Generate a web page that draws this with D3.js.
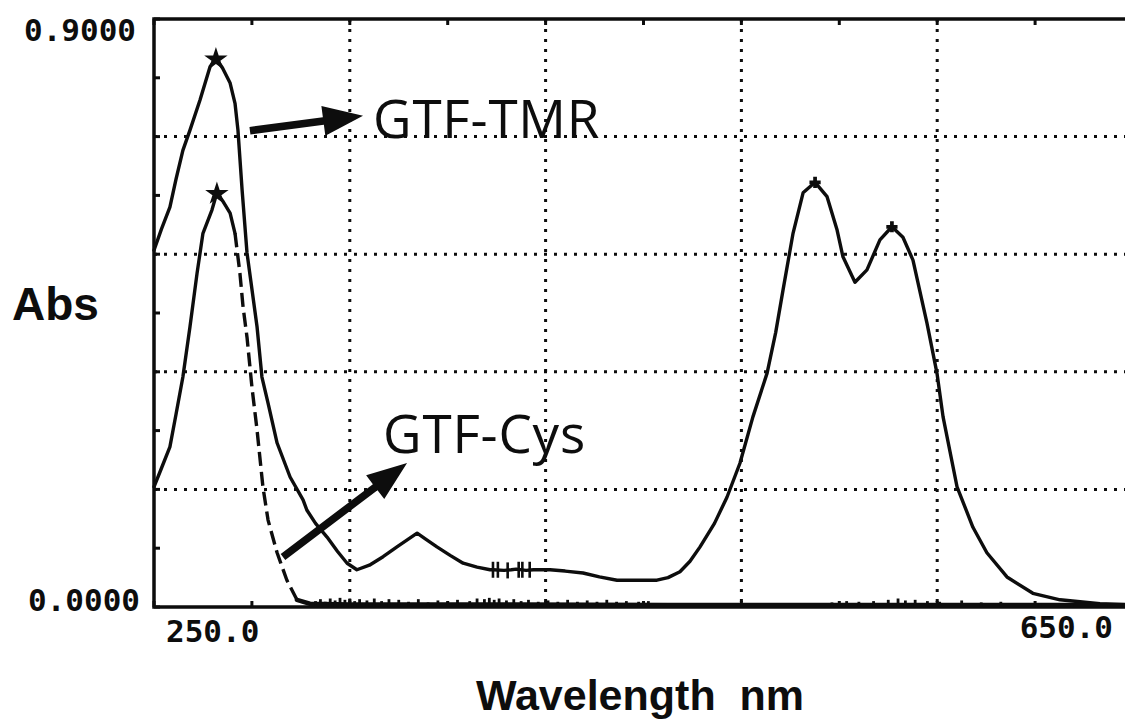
<!DOCTYPE html>
<html>
<head>
<meta charset="utf-8">
<script src="https://cdn.jsdelivr.net/npm/d3@7/dist/d3.min.js"></script>
<style>
  html, body { margin: 0; padding: 0; background: #fff; }
  svg { display: block; }
</style>
</head>
<body>
<svg id="chart" width="1125" height="721"></svg>
<script>
// ---------------- DATA ----------------
const xDomain = [250, 650];
const yDomain = [0, 0.9];
const xTickLabels = ["250.0", "650.0"];
const yTickLabels = ["0.0000", "0.9000"];
const xGridValues = [330, 410, 490, 570];
const yGridValues = [0.18, 0.36, 0.54, 0.72];
const xMinorTicks = [250, 290, 330, 370, 410, 450, 490, 530, 570, 610, 650];
const yMinorTicks = [0, 0.09, 0.18, 0.27, 0.36, 0.45, 0.54, 0.63, 0.72, 0.81, 0.9];

// GTF-TMR spectrum [wavelength nm, absorbance]
const tmrSpectrum = [
  [250, 0.546], [253, 0.578], [256.5, 0.612], [259, 0.655], [261.8, 0.699], [264.7, 0.730],
  [268.8, 0.776], [272.9, 0.827], [275.3, 0.840], [278, 0.825], [281.1, 0.802], [283.1, 0.771],
  [284.3, 0.730], [286.0, 0.638], [288.0, 0.542], [292.1, 0.429], [294.1, 0.352], [296.6, 0.312],
  [300.3, 0.251], [305.6, 0.199], [310.9, 0.164], [312.5, 0.148], [316, 0.128], [320.7, 0.107],
  [325, 0.085], [328.9, 0.067], [332.9, 0.057], [338, 0.064], [343.6, 0.077], [350, 0.094],
  [357.5, 0.113], [361, 0.104], [365.6, 0.092], [371, 0.079], [376.3, 0.067], [382, 0.061],
  [387.3, 0.057], [388.5, 0.057], [393, 0.056], [396, 0.057], [398, 0.058], [402, 0.056],
  [405, 0.057], [411.8, 0.057], [418, 0.055],
  [425.3, 0.052], [432, 0.046], [439.2, 0.041], [447, 0.041], [455.5, 0.041], [460, 0.045],
  [464.9, 0.054], [469, 0.070], [473.1, 0.092], [479, 0.128], [484.1, 0.168], [489.4, 0.220],
  [494.7, 0.291], [500.5, 0.358], [504, 0.420], [507.0, 0.485], [511.1, 0.572], [515.2, 0.634],
  [520.1, 0.650], [525.0, 0.628], [529.1, 0.577], [531.5, 0.536], [536.4, 0.497], [541.3, 0.516],
  [546.6, 0.562], [551.5, 0.582], [556.0, 0.566], [560.1, 0.531], [565.8, 0.435], [569.9, 0.358],
  [572.4, 0.291], [578.1, 0.184], [584.6, 0.122], [590.3, 0.083], [598.5, 0.046], [609.1, 0.021],
  [620.2, 0.011], [636.5, 0.005], [650, 0.003]
];
// short noise marks crossing the GTF-TMR trace [wavelength, absorbance at centre]
const tmrNoiseMarks = [[388.5, 0.057], [390.5, 0.057], [394.5, 0.056], [399, 0.057], [400.5, 0.057], [403.5, 0.057]];

// GTF-Cys spectrum [wavelength nm, absorbance]
const cysSpectrum = [
  [250, 0.184], [253, 0.212], [256.5, 0.245], [259, 0.295], [261.8, 0.352], [264.7, 0.429],
  [267.6, 0.511], [270.0, 0.572], [273.7, 0.608], [275.7, 0.634], [278, 0.622], [281.1, 0.603],
  [283.1, 0.572], [285.1, 0.511], [286.4, 0.459], [288.0, 0.413], [290.0, 0.337], [292.1, 0.271],
  [294.5, 0.184], [296.6, 0.133], [300.3, 0.083], [304.3, 0.041], [308.4, 0.011], [313.7, 0.005],
  [330, 0.004], [360, 0.004], [400, 0.004], [460, 0.003], [530, 0.003], [600, 0.003], [650, 0.003]
];
const cysDashedRange = [283.1, 308.4];
// baseline noise spikes of the GTF-Cys trace [wavelength, spike top absorbance]
const cysNoiseSpikes = [
  [316, 0.009], [318, 0.012], [320, 0.008], [322, 0.013], [324, 0.010], [326, 0.014], [328, 0.011],
  [330, 0.013], [332, 0.009], [334, 0.012], [337, 0.010], [340, 0.013], [343, 0.009], [346, 0.012],
  [350, 0.011], [354, 0.008], [358, 0.012], [362, 0.007], [366, 0.010], [370, 0.008], [374, 0.011],
  [379, 0.009], [382, 0.013], [385, 0.012], [387, 0.014], [389, 0.011], [391, 0.013], [394, 0.010],
  [397, 0.012], [400, 0.009], [403, 0.011], [407, 0.008], [411, 0.010], [415, 0.008], [419, 0.011],
  [423, 0.008], [427, 0.010], [431, 0.008], [435, 0.011], [439, 0.008], [443, 0.009], [448, 0.008],
  [452, 0.009], [527, 0.007], [533, 0.009], [538, 0.008], [544, 0.009], [550, 0.011], [554, 0.013],
  [557, 0.010], [561, 0.011], [566, 0.009], [571, 0.008], [580, 0.010], [588, 0.007], [596, 0.008],
  [612, 0.006], [625, 0.005], [640, 0.005]
];

// peak markers [wavelength, absorbance]
const starMarks = [[275.3, 0.840], [275.7, 0.634]];
const crossMarks = [[520.1, 0.650], [551.5, 0.582]];

// annotations: arrow [from, to] in data coords, and labels
const annotations = [
  { text: "GTF-TMR", from: [289.2, 0.729], to: [335.4, 0.752], labelAt: [339.5, 0.7185] },
  { text: "GTF-Cys", from: [302.7, 0.0765], to: [353.4, 0.2204], labelAt: [343.6, 0.235] }
];
const xTitle = "Wavelength  nm";
const yTitle = "Abs";

// ---------------- DRAW ----------------
const svg = d3.select("#chart");
svg.append("rect").attr("width", 1125).attr("height", 721).attr("fill", "#fff");

const x = d3.scaleLinear().domain(xDomain).range([154, 1133]);
const y = d3.scaleLinear().domain(yDomain).range([607, 19]);

const ink = "#0d0d0d";

// dotted grid
const grid = svg.append("g").attr("stroke", ink).attr("stroke-width", 3)
  .attr("stroke-dasharray", "3 7").attr("fill", "none");
grid.selectAll("line.v").data(xGridValues).join("line").attr("class", "v")
  .attr("x1", d => x(d)).attr("x2", d => x(d)).attr("y1", y(0.9)).attr("y2", y(0));
grid.selectAll("line.h").data(yGridValues).join("line").attr("class", "h")
  .attr("y1", d => y(d)).attr("y2", d => y(d)).attr("x1", x(250)).attr("x2", x(650));

// frame
svg.append("rect")
  .attr("x", x(250)).attr("y", y(0.9))
  .attr("width", x(650) - x(250)).attr("height", y(0) - y(0.9))
  .attr("fill", "none").attr("stroke", ink).attr("stroke-width", 3.5);

// minor ticks
const ticks = svg.append("g").attr("stroke", ink).attr("stroke-width", 3);
ticks.selectAll("line.t").data(xMinorTicks).join("line").attr("class", "t")
  .attr("x1", d => x(d)).attr("x2", d => x(d)).attr("y1", y(0.9)).attr("y2", y(0.9) + 6);
ticks.selectAll("line.b").data(xMinorTicks).join("line").attr("class", "b")
  .attr("x1", d => x(d)).attr("x2", d => x(d)).attr("y1", y(0)).attr("y2", y(0) - 6);
ticks.selectAll("line.l").data(yMinorTicks).join("line").attr("class", "l")
  .attr("y1", d => y(d)).attr("y2", d => y(d)).attr("x1", x(250)).attr("x2", x(250) + 6);

// tick labels
const mono = "'DejaVu Sans Mono', 'Liberation Mono', monospace";
function tickText(txt, px, py, anchor) {
  svg.append("text").text(txt).attr("x", px).attr("y", py)
    .attr("text-anchor", anchor).attr("font-family", mono).attr("font-size", 31)
    .attr("font-weight", "bold").attr("fill", ink);
}
tickText(yTickLabels[1], x(250) - 18, y(0.9) + 22, "end");
tickText(yTickLabels[0], x(250) - 14, y(0) + 4, "end");
tickText(xTickLabels[0], x(250) + 12, 642, "start");
tickText(xTickLabels[1], x(650) - 20, 638, "end");

// axis titles
svg.append("text").text(yTitle).attr("x", 12).attr("y", 320)
  .attr("font-family", "'Liberation Sans', Arial, sans-serif").attr("font-weight", "bold")
  .attr("font-size", 46).attr("fill", ink);
svg.append("text").text(xTitle).attr("x", 640).attr("y", 710).attr("text-anchor", "middle")
  .attr("xml:space", "preserve").style("white-space", "pre")
  .attr("font-family", "'Liberation Sans', Arial, sans-serif").attr("font-weight", "bold")
  .attr("font-size", 43).attr("fill", ink);

// curves
const line = d3.line().x(d => x(d[0])).y(d => y(d[1])).curve(d3.curveLinear);
const curves = svg.append("g").attr("fill", "none").attr("stroke", ink)
  .attr("stroke-width", 3.4).attr("stroke-linejoin", "round").attr("stroke-linecap", "round");

curves.append("path").attr("d", line(tmrSpectrum));

const cysBefore = cysSpectrum.filter(d => d[0] <= cysDashedRange[0]);
const cysDash = cysSpectrum.filter(d => d[0] >= cysDashedRange[0] && d[0] <= cysDashedRange[1]);
const cysAfter = cysSpectrum.filter(d => d[0] >= cysDashedRange[1]);
curves.append("path").attr("d", line(cysBefore));
curves.append("path").attr("d", line(cysDash)).attr("stroke-dasharray", "14 6")
  .attr("stroke-linecap", "butt");
curves.append("path").attr("d", line(cysAfter)).attr("stroke-width", 4.5);

// noise spikes
svg.append("g").attr("stroke", ink).attr("stroke-width", 2.8)
  .selectAll("line").data(cysNoiseSpikes).join("line")
  .attr("x1", d => x(d[0])).attr("x2", d => x(d[0]))
  .attr("y1", y(0)).attr("y2", d => y(d[1]));
svg.append("g").attr("stroke", ink).attr("stroke-width", 2.6)
  .selectAll("line").data(tmrNoiseMarks).join("line")
  .attr("x1", d => x(d[0])).attr("x2", d => x(d[0]))
  .attr("y1", d => y(d[1]) - 8).attr("y2", d => y(d[1]) + 8);

// markers
svg.selectAll("path.star").data(starMarks).join("path").attr("class", "star")
  .attr("d", d3.symbol().type(d3.symbolStar).size(170))
  .attr("transform", d => `translate(${x(d[0])},${y(d[1]) + 1})`).attr("fill", ink);
svg.selectAll("path.cross").data(crossMarks).join("path").attr("class", "cross")
  .attr("d", d3.symbol().type(d3.symbolCross).size(70))
  .attr("transform", d => `translate(${x(d[0])},${y(d[1])})`).attr("fill", ink);

// annotations: arrows + labels
annotations.forEach(a => {
  const x0 = x(a.from[0]), y0 = y(a.from[1]);
  const x1 = x(a.to[0]), y1 = y(a.to[1]);
  const dx = x1 - x0, dy = y1 - y0, L = Math.hypot(dx, dy);
  const ux = dx / L, uy = dy / L, nx = -uy, ny = ux;
  const headLen = 40, headW = 15, shaftW = 3.8;
  const bx = x1 - ux * headLen, by = y1 - uy * headLen;
  const pts = [
    [x0 + nx * shaftW, y0 + ny * shaftW],
    [bx + nx * shaftW, by + ny * shaftW],
    [bx + nx * headW, by + ny * headW],
    [x1, y1],
    [bx - nx * headW, by - ny * headW],
    [bx - nx * shaftW, by - ny * shaftW],
    [x0 - nx * shaftW, y0 - ny * shaftW]
  ];
  svg.append("polygon").attr("points", pts.map(p => p.join(",")).join(" ")).attr("fill", ink);
  svg.append("text").text(a.text)
    .attr("x", x(a.labelAt[0])).attr("y", y(a.labelAt[1]))
    .attr("font-family", "'Open Sans', 'Noto Sans', sans-serif").attr("font-size", 53)
    .attr("letter-spacing", 0.8).attr("fill", ink);
});
</script>
</body>
</html>
